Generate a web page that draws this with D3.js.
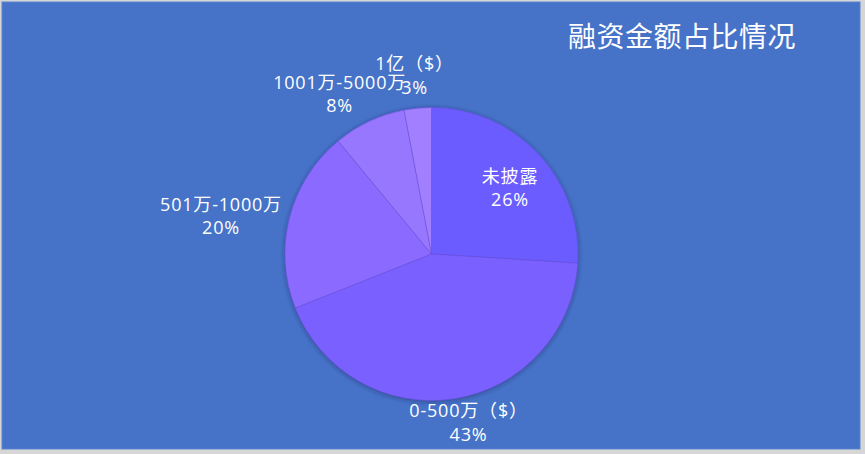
<!DOCTYPE html>
<html>

<head>
  <meta charset="utf-8">
  <script src="https://cdn.jsdelivr.net/npm/d3@7"></script>
  <style type="text/css">
    body {
      margin: 0;
      background: #d6d6d6;
      font-family: "Open Sans", "Noto Sans CJK SC", sans-serif;
    }
  </style>
</head>

<body>
  <script type="text/javascript">
    const width = 865;
    const height = 454;

    const title = '融资金额占比情况';
    const categories = ['未披露', '0-500万（$）', '501万-1000万', '1001万-5000万', '1亿（$）'];
    const values = [26, 43, 20, 8, 3];
    const colors = ['#6b5bff', '#7a61ff', '#8a6bff', '#9877ff', '#a17fff'];

    // label placement per slice: distance from centre and a small angular nudge (radians)
    const labelRadius = [103, 172, 214, 185, 180];
    const labelNudge = [0.05, -0.06, -0.07, -0.08, 0.0];

    const svg = d3.select('body').append('svg')
      .attr('width', width)
      .attr('height', height)
      .style('display', 'block');

    const defs = svg.append('defs');
    const shadow = defs.append('filter')
      .attr('id', 'shadow')
      .attr('x', '-20%').attr('y', '-20%')
      .attr('width', '140%').attr('height', '140%');
    shadow.append('feDropShadow')
      .attr('dx', 0).attr('dy', 1)
      .attr('stdDeviation', 2.5)
      .attr('flood-color', '#1a1a60')
      .attr('flood-opacity', 0.55);

    // chart area
    svg.append('rect')
      .attr('x', 2).attr('y', 2)
      .attr('width', 858).attr('height', 447)
      .attr('fill', '#4673c8')
      .attr('stroke', '#5b84d0');

    svg.append('text')
      .attr('x', 682).attr('y', 36)
      .attr('text-anchor', 'middle')
      .attr('dominant-baseline', 'central')
      .attr('fill', '#ffffff')
      .style('font-size', '28px')
      .style('letter-spacing', '0.5px')
      .text(title);

    const cx = 431.5, cy = 254, radius = 146.5;

    const g = svg.append('g')
      .attr('transform', `translate(${cx}, ${cy})`);

    const pie = d3.pie().sort(null).value(d => d);
    const arcs = pie(values);

    const arc = d3.arc().innerRadius(0).outerRadius(radius);

    g.append('g')
      .attr('filter', 'url(#shadow)')
      .selectAll('path')
      .data(arcs)
      .join('path')
      .attr('d', arc)
      .attr('fill', (d, i) => colors[i])
      .attr('stroke', '#6a4fd8')
      .attr('stroke-opacity', 0.6)
      .attr('stroke-width', 0.8);

    const labels = g.selectAll('.label')
      .data(arcs)
      .join('text')
      .attr('class', 'label')
      .attr('text-anchor', 'middle')
      .attr('fill', '#ffffff')
      .style('font-size', '18px')
      .style('letter-spacing', '0.8px')
      .attr('transform', (d, i) => {
        const a = (d.startAngle + d.endAngle) / 2 + labelNudge[i];
        const r = labelRadius[i];
        return `translate(${r * Math.sin(a)}, ${-r * Math.cos(a)})`;
      });

    labels.append('tspan')
      .attr('x', 0).attr('dy', '-0.25em')
      .text((d, i) => categories[i]);
    labels.append('tspan')
      .attr('x', 0).attr('dy', '1.3em')
      .text(d => d.value + '%');
  </script>
</body>

</html>
